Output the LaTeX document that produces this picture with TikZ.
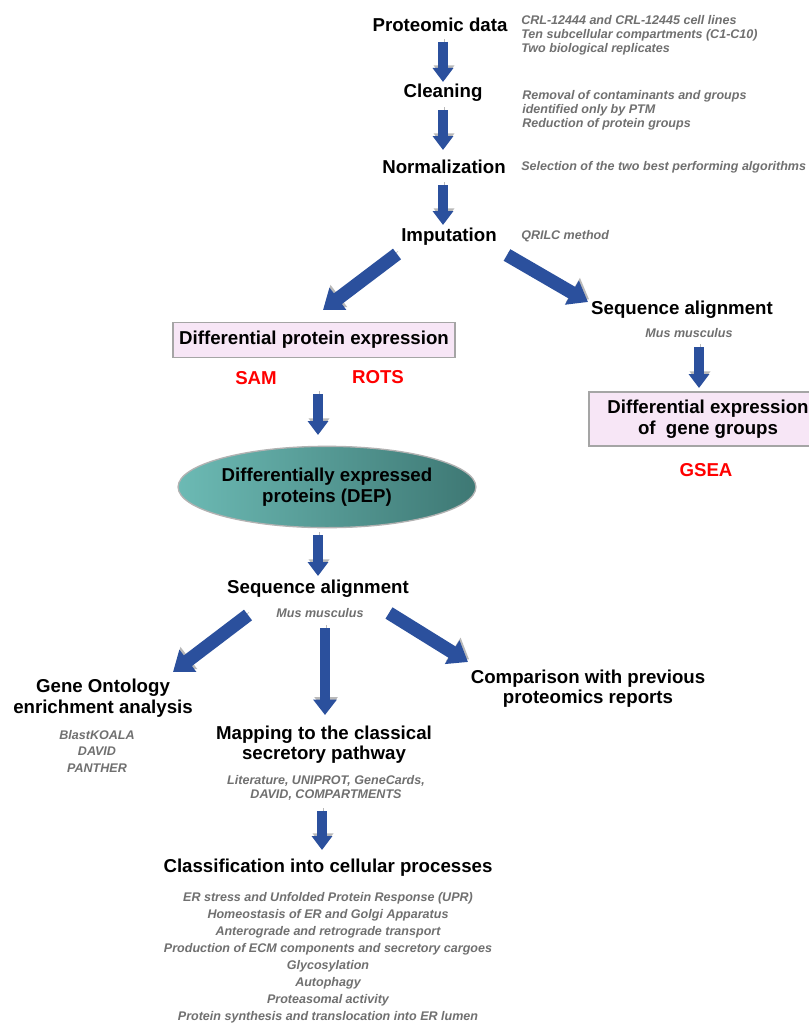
\documentclass[tikz,border=0pt]{standalone}
\usepackage{fontspec}
\setmainfont{Liberation Sans}
\usetikzlibrary{arrows.meta,shapes.geometric,calc}

\definecolor{flowblue}{RGB}{43,80,157}
\definecolor{notegray}{RGB}{112,112,112}
\definecolor{boxpink}{RGB}{247,230,246}
\definecolor{boxline}{RGB}{165,165,165}
\definecolor{teallight}{RGB}{108,186,180}
\definecolor{tealdark}{RGB}{62,120,116}

\begin{document}
\begin{tikzpicture}[
            x=0.75pt, y=-0.75pt,
            stage/.style={font=\fontsize{14}{16}\selectfont\bfseries, inner sep=0pt, align=center},
            note/.style={font=\fontsize{9.4}{10.5}\selectfont\bfseries\itshape, text=notegray, inner sep=0pt, align=left, anchor=west},
            tools/.style={note, align=center, anchor=center},
            method/.style={stage, text=red},
            resultbox/.style={stage, draw=boxline, fill=boxpink, line width=0.8pt},
            flow/.style={line width=7.2pt, draw=flowblue, -{Triangle[width=15pt,length=10.5pt]},
                preaction={draw=gray!55, transform canvas={xshift=0.8pt,yshift=2pt}}},
            bigflow/.style={flow, line width=10pt, -{Triangle[width=20pt,length=14pt]}}
        ]
        \fill[white] (0,0) rectangle (808,1024);
        \useasboundingbox (0,0) rectangle (808,1024);

        %Pipeline

        \node[stage] (proteomic) at (440,25) {Proteomic data};
        \node[note] (datanote) at (521,35) {CRL-12444 and CRL-12445 cell lines\\Ten subcellular compartments (C1-C10)\\Two biological replicates};
        \node[stage] (cleaning) at (443,93) {Cleaning};
        \node[note] (cleannote) at (522,110) {Removal of contaminants and groups\\identified only by PTM\\Reduction of protein groups};
        \node[stage] (normal) at (444,167) {Normalization};
        \node[note] (normnote) at (521,167) {Selection of the two best performing algorithms};
        \node[stage] (imput) at (449,237) {Imputation};
        \node[note] (imputnote) at (521,236) {QRILC method};

        \draw[flow] ($(proteomic)+(3,17)$) -- ($(cleaning)+(0,-11)$);
        \draw[flow] ($(cleaning)+(0,17)$) -- ($(normal)+(-1,-17)$);
        \draw[flow] ($(normal)+(-1,18)$) -- ($(imput)+(-6,-12)$);

        %% Branch 1: protein level

        \node[resultbox, minimum width=211.5pt, minimum height=26.25pt] (dpe) at (314,340) {Differential protein expression};
        \node[method] (sam) at (256,378) {SAM};
        \node[method] (rots) at (378,377) {ROTS};
        \node[stage, ellipse, minimum width=192pt, minimum height=61pt, left color=teallight, right color=tealdark,
            draw=gray!60, line width=1pt] (dep) at (327,487) {Differentially expressed\\proteins (DEP)};
        \node[stage] (seqdep) at (318,589) {Sequence alignment};
        \node[tools] (musdep) at (320,613) {Mus musculus};

        \draw[bigflow] ($(imput)+(-52,17)$) -- ($(dpe.north)+(9,-12)$);
        \draw[flow] ($(dpe)+(4,54)$) -- ($(dep)+(-9,-52)$);
        \draw[flow] ($(dep)+(-9,48)$) -- ($(seqdep)+(0,-13)$);

        %% Branch 2: gene groups

        \node[stage] (seqgene) at (682,310) {Sequence alignment};
        \node[tools] (musgene) at (689,333) {Mus musculus};
        \node[resultbox, minimum width=178.5pt, minimum height=40.5pt] (deg) at (708,419) {Differential expression\\of~ gene groups};
        \node[method] (gsea) at (706,470) {GSEA};

        \draw[bigflow] ($(imput)+(58,18)$) -- ($(seqgene)+(-94,-8)$);
        \draw[flow] ($(musgene)+(10,14)$) -- ($(deg)+(-9,-31)$);

        %% Analyses of the DEP

        \node[stage] (gosea) at (103,698) {Gene Ontology\\enrichment analysis};
        \node[tools, font=\fontsize{9.4}{12.4}\selectfont\bfseries\itshape] (gotools) at (97,751) {BlastKOALA\\DAVID\\PANTHER};
        \node[stage, font=\fontsize{14}{15}\selectfont\bfseries] (mapping) at (324,745) {Mapping to the classical\\secretory pathway};
        \node[tools] (maptools) at (326,788) {Literature, UNIPROT, GeneCards,\\DAVID, COMPARTMENTS};
        \node[stage, font=\fontsize{14}{15}\selectfont\bfseries] (compare) at (588,689) {Comparison with previous\\proteomics reports};

        \draw[bigflow] ($(seqdep)+(-70,26)$) -- ($(gosea)+(70,-26)$);
        \draw[flow, line width=7.8pt, -{Triangle[width=17pt,length=11.5pt]}] ($(seqdep)+(7,39)$) -- ($(mapping)+(1,-30)$);
        \draw[bigflow] ($(seqdep)+(71,24)$) -- ($(compare)+(-120,-27)$);

        %% Cellular processes

        \node[stage] (classify) at (328,868) {Classification into cellular processes};
        \node[tools, font=\fontsize{9.4}{12.8}\selectfont\bfseries\itshape] (processes) at (328,958) {ER stress and Unfolded Protein Response (UPR)\\Homeostasis of ER and Golgi Apparatus\\Anterograde and retrograde transport\\Production of ECM components and secretory cargoes\\Glycosylation\\Autophagy\\Proteasomal activity\\Protein synthesis and translocation into ER lumen};

        \draw[flow] ($(maptools)+(-4,23)$) -- ($(classify)+(-6,-18)$);

    \end{tikzpicture}
\end{document}
